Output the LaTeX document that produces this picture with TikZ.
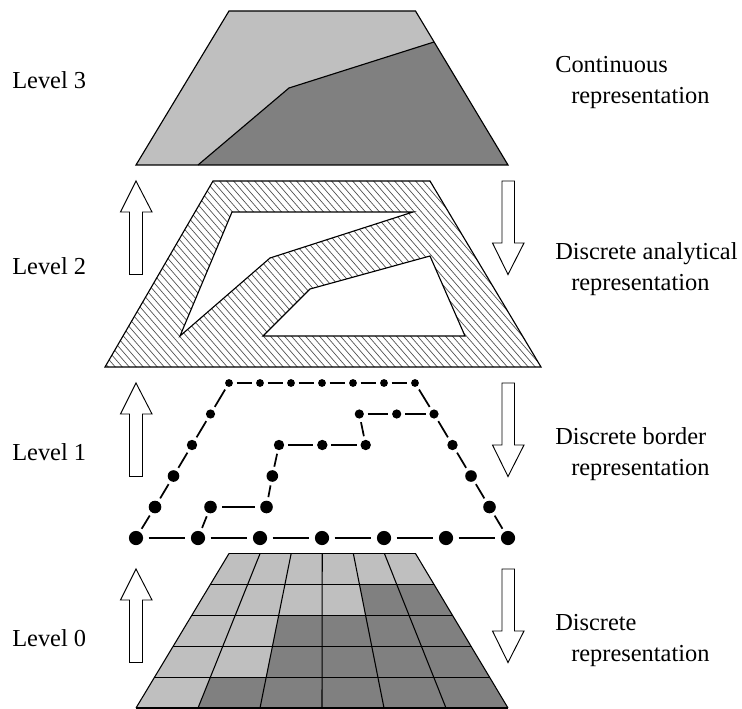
\documentclass[tikz,border=0pt]{standalone}
\usepackage{fontspec}
\setmainfont{Liberation Serif}
\definecolor{lightg}{gray}{0.75}
\definecolor{darkg}{gray}{0.5}
\tikzset{
  x=0.75pt,y=-0.75pt,
  outline/.style={draw=black,line width=0.85pt,line join=miter},
  arrowbox/.style={draw=black,fill=white,line width=0.7pt,line join=miter},
  gridline/.style={draw=black,line width=0.8pt},
  hatchline/.style={draw=black!70,line width=0.5pt},
  lbl/.style={inner sep=0pt,anchor=base west,font=\fontsize{18.3pt}{22pt}\selectfont},
  dot/.style={circle,fill=black,inner sep=0pt},
  linkline/.style={draw=black,line width=1.3pt,shorten <=2.6pt,shorten >=2.6pt},
  linkwide/.style={draw=black,line width=1.35pt,shorten <=4pt,shorten >=4pt},
}
\begin{document}
\begin{tikzpicture}
\useasboundingbox (0,0) rectangle (742,709);
% Level 3
\fill[lightg] (229,11) -- (415.5,11) -- (508,165) -- (136,165) -- cycle;
\fill[darkg] (198,165) -- (289,88) -- (434,42) -- (508,165) -- cycle;
\draw[outline] (198,165) -- (289,88) -- (434,42);
\draw[outline] (229,11) -- (415.5,11) -- (508,165) -- (136,165) -- cycle;
% Level 2
\begin{scope}[even odd rule]
\clip (213,181) -- (430,181) -- (541,367) -- (105,367) -- cycle
  (232,212) -- (413,212) -- (270,258) -- (180,336) -- cycle
  (263,336) -- (310,289) -- (430,256) -- (465,336) -- cycle;
\foreach \i in {0,...,100}
  \draw[hatchline] (-140+\i*7,170) -- +(180,207);
\end{scope}
\draw[outline] (213,181) -- (430,181) -- (541,367) -- (105,367) -- cycle;
\draw[outline] (232,212) -- (413,212) -- (270,258) -- (180,336) -- cycle;
\draw[outline] (263,336) -- (310,289) -- (430,256) -- (465,336) -- cycle;
% Level 1
\foreach \n/\x/\y/\r in {
 b0/136/538/7.1,b1/198/538/7.1,b2/260/538/7.1,b3/322/538/7.1,b4/384/538/7.1,b5/446/538/7.1,b6/508/538/7.1,
 l1/155/507/6.3,l2/173.5/476/5.8,l3/192/445/5.2,l4/210.5/414/4.6,
 t0/229/383/3.9,t1/260/383/3.9,t2/291/383/3.9,t3/322/383/3.9,t4/353/383/3.9,t5/384/383/3.9,t6/415/383/3.9,
 r4/434/414/4.6,r3/452.5/445/5.2,r2/471/476/5.8,r1/489.5/507/6.3,
 i1/210.5/507/6.3,i2/266.5/507/6.3,i3/272.3/476/5.8,i4/279/445/5.2,i5/322.3/445/5.2,i6/365.7/445/5.2,i7/359.3/414/4.6,i8/396.7/414/4.6}
  \node[dot,minimum size=2*\r*0.75pt] (\n) at (\x,\y) {};
\foreach \a/\b in {b0/b1,b1/b2,b2/b3,b3/b4,b4/b5,b5/b6,i1/i2}
  \draw[linkwide] (\a) -- (\b);
\foreach \a/\b in {b0/l1,l1/l2,l2/l3,l3/l4,l4/t0,
  t0/t1,t1/t2,t2/t3,t3/t4,t4/t5,t5/t6,t6/r4,r4/r3,r3/r2,r2/r1,r1/b6,
  b1/i1,i2/i3,i3/i4,i4/i5,i5/i6,i6/i7,i7/i8,i8/r4}
  \draw[linkline] (\a) -- (\b);
% Level 0
\fill[lightg] (229,553.5) -- (415.5,553.5) -- (508,708) -- (136,708) -- cycle;
\fill[darkg] (198,708) -- (210.5,677) -- (266.5,677) -- (279,615) -- (365.7,615) -- (359.3,584.5) -- (434,584.5) -- (508,708) -- cycle;
\foreach \i in {0,...,6}
  \draw[gridline] ({229+\i*31.08},553.5) -- ({136+\i*62},708);
\foreach \j in {0,...,5}
  \draw[gridline] ({229-\j*18.6},{553.5+\j*30.9}) -- ({415.5+\j*18.5},{553.5+\j*30.9});
% Arrows
\foreach \y in {181,383,569}
  \draw[arrowbox] (136,\y) -- (152,\y+31) -- (142.5,\y+31) -- (142.5,\y+93.5) -- (129.5,\y+93.5) -- (129.5,\y+31) -- (120.5,\y+31) -- cycle;
\foreach \y in {181,383,569}
  \draw[arrowbox] (502,\y) -- (514.5,\y) -- (514.5,\y+62) -- (524,\y+62) -- (508,\y+93.5) -- (492.5,\y+62) -- (502,\y+62) -- cycle;
% Labels
\node[lbl] (l3t) at (12,88.3) {Level 3};
\node[lbl] (l2t) at (12,274.3) {Level 2};
\node[lbl] (l1t) at (12,460.3) {Level 1};
\node[lbl] (l0t) at (12,646.3) {Level 0};
\node[lbl] (a1) at (555,72.7) {Continuous};
\node[lbl] (a2) at (571,104) {representation};
\node[lbl] (b1t) at (555,259.3) {Discrete analytical};
\node[lbl] (b2t) at (571,290.6) {representation};
\node[lbl] (c1) at (555,444.3) {Discrete border};
\node[lbl] (c2) at (571,475.7) {representation};
\node[lbl] (d1) at (555,630.7) {Discrete};
\node[lbl] (d2) at (571,661.7) {representation};
\end{tikzpicture}
\end{document}
